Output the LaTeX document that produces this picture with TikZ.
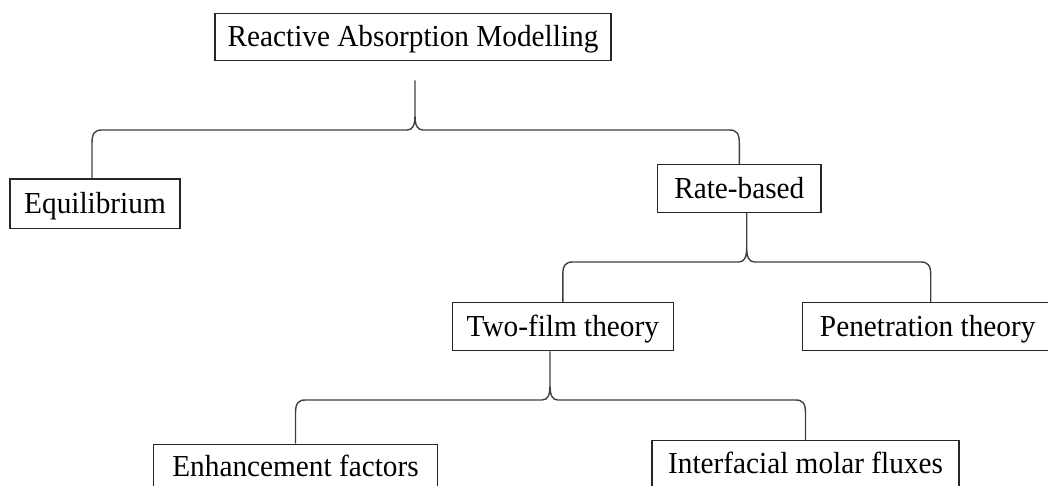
\documentclass[tikz,border=0pt]{standalone}
\usepackage{fontspec}
\setmainfont[FakeStretch=0.96]{Liberation Serif}
\usetikzlibrary{calc}
\tikzset{
  box/.style={draw=black!85, line width=1.2pt, inner sep=0pt, align=center,
    font=\fontsize{30.5}{36}\selectfont, text=black, text height=20pt, text depth=0pt},
  brace/.style={draw=black!75, line width=1.4pt, line join=round}
}
\newcommand\brc[4]{%
 \draw[brace] let \p1=#1, \p2=#3, \p3=#4 in
 (\p2) -- ({\x2},{#2-13pt}) .. controls ({\x2},{#2-3pt}) and ({\x2+3pt},{#2}) .. ({\x2+10pt},{#2})
   -- ({\x1-8pt},{#2}) .. controls ({\x1-2pt},{#2}) and ({\x1},{#2+5pt}) .. ({\x1},{#2+15pt}) -- (\p1)
 (\p3) -- ({\x3},{#2-13pt}) .. controls ({\x3},{#2-3pt}) and ({\x3-3pt},{#2}) .. ({\x3-10pt},{#2})
   -- ({\x1+8pt},{#2}) .. controls ({\x1+2pt},{#2}) and ({\x1},{#2+5pt}) .. ({\x1},{#2+15pt});
}
\begin{document}
\begin{tikzpicture}[x=1pt,y=1pt]
\useasboundingbox (0,0) rectangle (1048,486);
\node[box, minimum width=396pt, minimum height=47.4pt] (top) at (413,449) {Reactive Absorption Modelling};
\node[box, minimum width=170pt, minimum height=49.3pt] (eq) at (95,282.3) {Equilibrium};
\node[box, minimum width=163.3pt, minimum height=47.6pt] (rate) at (739.3,297.5) {Rate-based};
\node[box, minimum width=221pt, minimum height=48pt] (two) at (562.8,159.3) {Two-film theory};
\node[box, minimum width=250pt, minimum height=47.6pt] (pen) at (927.7,159.5) {Penetration theory};
\node[box, minimum width=284.4pt, minimum height=45.2pt] (enh) at (295.5,19.1) {Enhancement factors};
\node[box, minimum width=307pt, minimum height=46.4pt] (int) at (805.5,22.1) {Interfacial molar fluxes};
\brc{($(top.south)+(2,-19)$)}{356pt}{($(eq.north)+(-3,0)$)}{(rate.north)}
\brc{($(rate.south)+(7.4,0)$)}{224pt}{(two.north)}{($(pen.north)+(3,0)$)}
\brc{($(two.south)+(-12.8,0)$)}{86pt}{(enh.north)}{(int.north)}
\end{tikzpicture}
\end{document}
